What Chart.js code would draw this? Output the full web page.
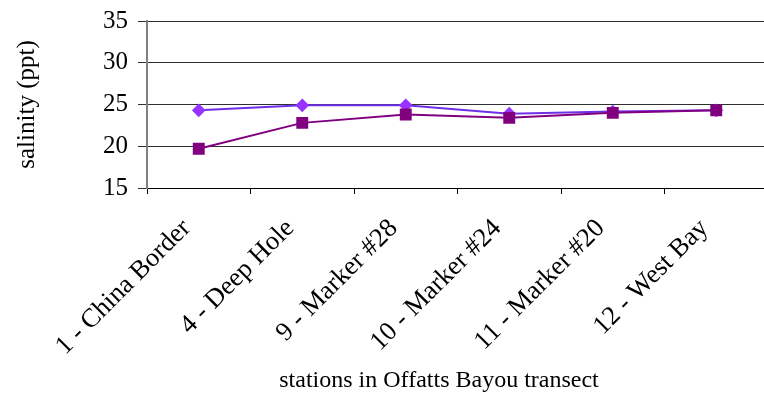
<!DOCTYPE html>
<html>
<head>
<meta charset="utf-8">
<script src="https://cdn.jsdelivr.net/npm/chart.js@4/dist/chart.umd.min.js"></script>
<style>
  html, body { margin: 0; padding: 0; background: #fff; overflow: hidden; }
  #wrap { position: relative; width: 777px; height: 396px; }
</style>
</head>
<body>
<div id="wrap"><canvas id="c"></canvas></div>
<script>
// Salinity readings along the Offatts Bayou transect
const stations = ['1 - China Border', '4 - Deep Hole', '9 - Marker #28', '10 - Marker #24', '11 - Marker #20', '12 - West Bay'];
const salinityUpper = [24.3, 24.9, 24.9, 23.9, 24.15, 24.3];
const salinityLower = [19.7, 22.8, 23.8, 23.4, 24.0, 24.3];
const yTicks = [15, 20, 25, 30, 35];
const yTitle = 'salinity (ppt)';
const xTitle = 'stations in Offatts Bayou transect';

const SERIF = '"Liberation Serif", "Times New Roman", serif';

// caption under the category axis
const xCaption = {
  id: 'xCaption',
  afterDraw(chart) {
    const ctx = chart.ctx;
    ctx.save();
    ctx.font = '24px ' + SERIF;
    ctx.fillStyle = '#000';
    ctx.textAlign = 'center';
    ctx.textBaseline = 'alphabetic';
    ctx.fillText(xTitle, 439, 387);
    ctx.restore();
  }
};

new Chart(document.getElementById('c'), {
  type: 'line',
  data: {
    labels: stations,
    datasets: [
      {
        data: salinityLower,
        borderColor: '#800080',
        backgroundColor: '#800080',
        pointBackgroundColor: '#800080',
        pointBorderColor: '#800080',
        pointStyle: 'rect',
        pointRadius: 7,
        borderWidth: 2,
        tension: 0
      },
      {
        data: salinityUpper,
        borderColor: '#7030E8',
        backgroundColor: '#9933FF',
        pointBackgroundColor: '#9933FF',
        pointBorderColor: '#9933FF',
        pointStyle: 'rectRot',
        pointRadius: 5.5,
        borderWidth: 2,
        tension: 0
      }
    ]
  },
  options: {
    responsive: true,
    maintainAspectRatio: false,
    animation: false,
    layout: { padding: { top: 21, left: 8, right: 0, bottom: 28 } },
    plugins: {
      legend: { display: false },
      tooltip: { enabled: false }
    },
    scales: {
      x: {
        type: 'category',
        offset: true,
        afterFit(scale) { scale.height = 180; },
        grid: {
          offset: true,
          drawOnChartArea: false,
          drawTicks: true,
          tickLength: 6,
          color: '#000'
        },
        border: { color: '#000', width: 1 },
        ticks: {
          maxRotation: 45,
          minRotation: 45,
          padding: 19,
          labelOffset: -12,
          color: '#000',
          font: { family: SERIF, size: 26.5 }
        }
      },
      y: {
        min: 15,
        max: 35,
        afterBuildTicks(scale) {
          scale.ticks = yTicks.map(v => ({ value: v }));
        },
        afterFit(scale) {
          scale.width = 139;
          scale.paddingTop = 0;
          scale.paddingBottom = 0;
        },
        grid: {
          color: '#303030',
          lineWidth: 1,
          drawTicks: true,
          tickLength: 9
        },
        border: { color: '#808080', width: 2 },
        title: {
          display: true,
          text: yTitle,
          color: '#000',
          padding: { top: 4, bottom: 0 },
          font: { family: SERIF, size: 25 }
        },
        ticks: {
          padding: 10,
          color: '#000',
          font: { family: SERIF, size: 25 }
        }
      }
    }
  },
  plugins: [xCaption]
});
</script>
</body>
</html>
